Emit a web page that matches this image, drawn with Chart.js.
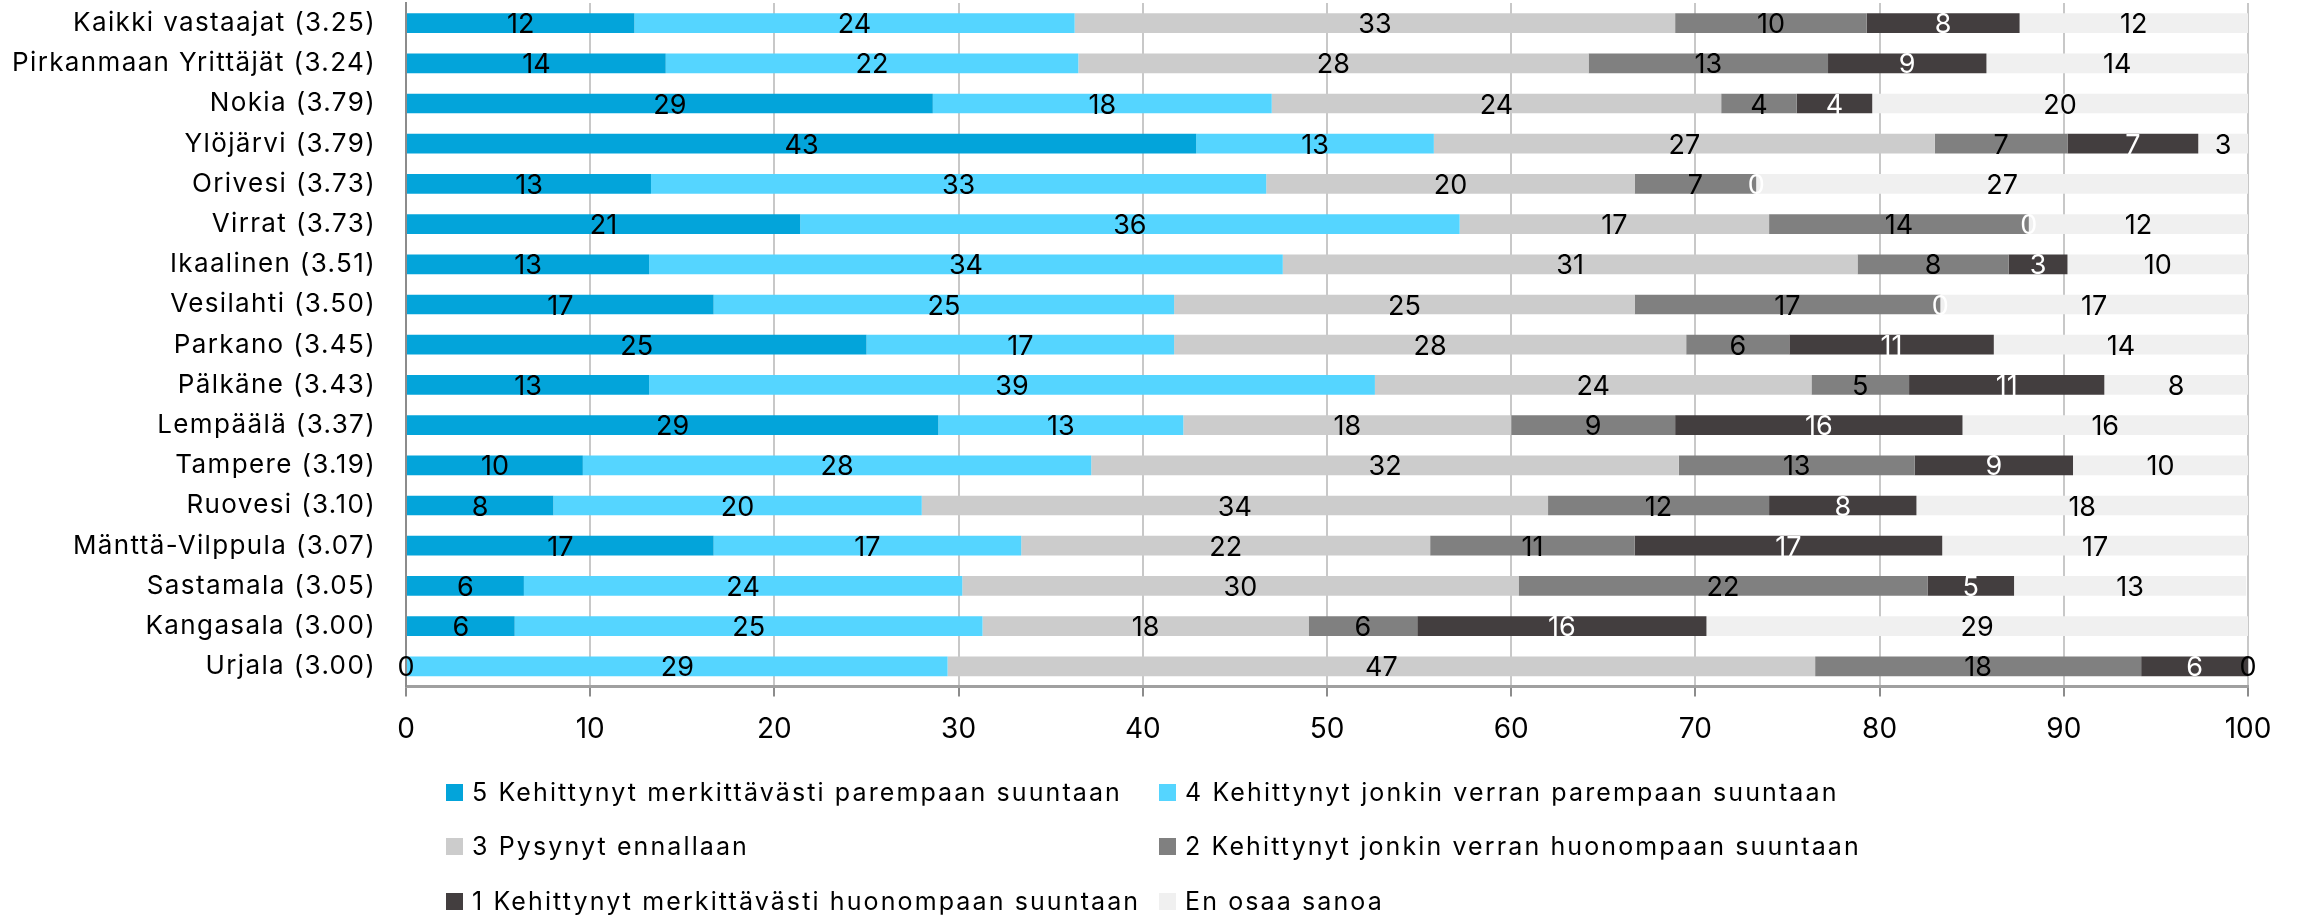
<!DOCTYPE html>
<html>
<head>
<meta charset="utf-8">
<script src="https://cdn.jsdelivr.net/npm/chart.js@4"></script>
<style>
  html, body { margin: 0; padding: 0; background: #fff; }
  #wrap { position: relative; width: 2305px; height: 916px; }
  #legend { position: absolute; left: 0; top: 0; width: 100%; height: 100%; pointer-events: none; }
  .item { position: absolute; display: flex; align-items: center; font: 25px Inter, sans-serif; color: #000; white-space: nowrap; }
  .item i { display: inline-block; width: 17px; height: 17px; margin-right: 9px; }
</style>
</head>
<body>
<div id="wrap">
  <canvas id="chart"></canvas>
  <div id="legend"></div>
</div>
<script>
const categories = [
    'Kaikki vastaajat (3.25)', 'Pirkanmaan Yrittäjät (3.24)', 'Nokia (3.79)', 'Ylöjärvi (3.79)',
    'Orivesi (3.73)', 'Virrat (3.73)', 'Ikaalinen (3.51)', 'Vesilahti (3.50)', 'Parkano (3.45)',
    'Pälkäne (3.43)', 'Lempäälä (3.37)', 'Tampere (3.19)', 'Ruovesi (3.10)',
    'Mänttä-Vilppula (3.07)', 'Sastamala (3.05)', 'Kangasala (3.00)', 'Urjala (3.00)'
];

const seriesNames = [
    '5 Kehittynyt merkittävästi parempaan suuntaan',
    '4 Kehittynyt jonkin verran parempaan suuntaan',
    '3 Pysynyt ennallaan',
    '2 Kehittynyt jonkin verran huonompaan suuntaan',
    '1 Kehittynyt merkittävästi huonompaan suuntaan',
    'En osaa sanoa'
];

// percentages per row
const much_better   = [12.4, 14.1, 28.6, 42.9, 13.3, 21.4, 13.2, 16.7, 25.0, 13.2, 28.9,  9.6,  8.0, 16.7,  6.4,  5.9,  0.0];
const some_better   = [23.9, 22.4, 18.4, 12.9, 33.4, 35.8, 34.4, 25.0, 16.7, 39.4, 13.3, 27.6, 20.0, 16.7, 23.8, 25.4, 29.4];
const unchanged     = [32.6, 27.7, 24.4, 27.2, 20.0, 16.8, 31.2, 25.0, 27.8, 23.7, 17.8, 31.9, 34.0, 22.2, 30.2, 17.7, 47.1];
const some_worse    = [10.4, 13.0,  4.1,  7.2,  6.6, 14.1,  8.2, 16.6,  5.6,  5.3,  8.9, 12.8, 12.0, 11.1, 22.2,  5.9, 17.7];
const much_worse    = [ 8.3,  8.6,  4.1,  7.1,  0.0,  0.0,  3.2,  0.0, 11.1, 10.6, 15.6,  8.6,  8.0, 16.7,  4.7, 15.7,  5.8];
const dont_know     = [12.4, 14.2, 20.4,  2.7, 26.7, 11.9,  9.8, 16.7, 13.8,  7.8, 15.5,  9.5, 18.0, 16.6, 12.6, 29.4,  0.0];

const xTicks = [0, 10, 20, 30, 40, 50, 60, 70, 80, 90, 100];

const colors = ['#03A4DA', '#55D5FF', '#CCCCCC', '#808080', '#433E3F', '#F0F0F0'];
const labelColors = ['#000', '#000', '#000', '#000', '#fff', '#000'];
const FONT = 'Inter, sans-serif';

const seriesData = [much_better, some_better, unchanged, some_worse, much_worse, dont_know];

// the original font (Aptos) runs wider than Inter, so spread the letters a bit
const measureCtx = document.createElement('canvas').getContext('2d');
function spacingFor(text, size, target) {
    measureCtx.font = size + 'px ' + FONT;
    return Math.max(0, (target - measureCtx.measureText(text).width) / text.length);
}
const catSpacing = spacingFor('Pirkanmaan Yrittäjät (3.24)', 26, 364);
const legendSpacing = spacingFor(seriesNames[0], 25, 650);

const barLabels = {
    id: 'barLabels',
    afterDatasetsDraw(chart) {
        const ctx = chart.ctx;
        ctx.save();
        ctx.font = '27px ' + FONT;
        ctx.textAlign = 'center';
        ctx.textBaseline = 'middle';
        chart.data.datasets.forEach((ds, i) => {
            chart.getDatasetMeta(i).data.forEach((bar, j) => {
                ctx.fillStyle = labelColors[i];
                ctx.fillText(Math.round(ds.data[j]), (bar.x + bar.base) / 2, bar.y + 2);
            });
        });
        ctx.restore();
        // y tick labels are drawn right after this (z: 1)
        ctx.letterSpacing = catSpacing + 'px';
    },
    afterDraw(chart) {
        chart.ctx.letterSpacing = '0px';
    }
};

new Chart(document.getElementById('chart'), {
    type: 'bar',
    data: {
        labels: categories,
        datasets: seriesData.map((d, i) => ({
            label: seriesNames[i],
            data: d,
            backgroundColor: colors[i],
            borderWidth: 0,
            categoryPercentage: 1,
            barPercentage: 0.49
        }))
    },
    options: {
        indexAxis: 'y',
        responsive: true,
        maintainAspectRatio: false,
        animation: false,
        layout: { padding: { top: 3, right: 57, bottom: 154, left: 0 } },
        plugins: {
            legend: { display: false },
            tooltip: { enabled: false }
        },
        scales: {
            x: {
                stacked: true,
                min: 0,
                max: 100,
                afterBuildTicks: (s) => { s.ticks = xTicks.map(v => ({ value: v })); },
                grid: { color: '#C8C8C8', lineWidth: 2, tickColor: '#8C8C8C', tickLength: 10 },
                border: { color: '#A0A0A0', width: 3 },
                ticks: { color: '#000', padding: 16, font: { family: FONT, size: 28 } }
            },
            y: {
                stacked: true,
                afterFit: (s) => { s.width = 406; s.paddingTop = 0; s.paddingBottom = 0; },
                grid: { display: false, drawTicks: false },
                border: { color: '#8C8C8C', width: 2 },
                ticks: { z: 1, color: '#000', padding: 30, font: { family: FONT, size: 26 } }
            }
        }
    },
    plugins: [barLabels]
});

// legend: two fixed columns, three rows
const legendCols = [446, 1159];
const legendRows = [792, 846, 901];
const legendEl = document.getElementById('legend');
seriesNames.forEach((name, i) => {
    const el = document.createElement('div');
    el.className = 'item';
    el.style.left = legendCols[i % 2] + 'px';
    el.style.top = (legendRows[Math.floor(i / 2)] - 15) + 'px';
    el.style.height = '30px';
    el.style.letterSpacing = legendSpacing + 'px';
    el.innerHTML = '<i style="background:' + colors[i] + '"></i><span></span>';
    el.querySelector('span').textContent = name;
    legendEl.appendChild(el);
});
</script>
</body>
</html>
